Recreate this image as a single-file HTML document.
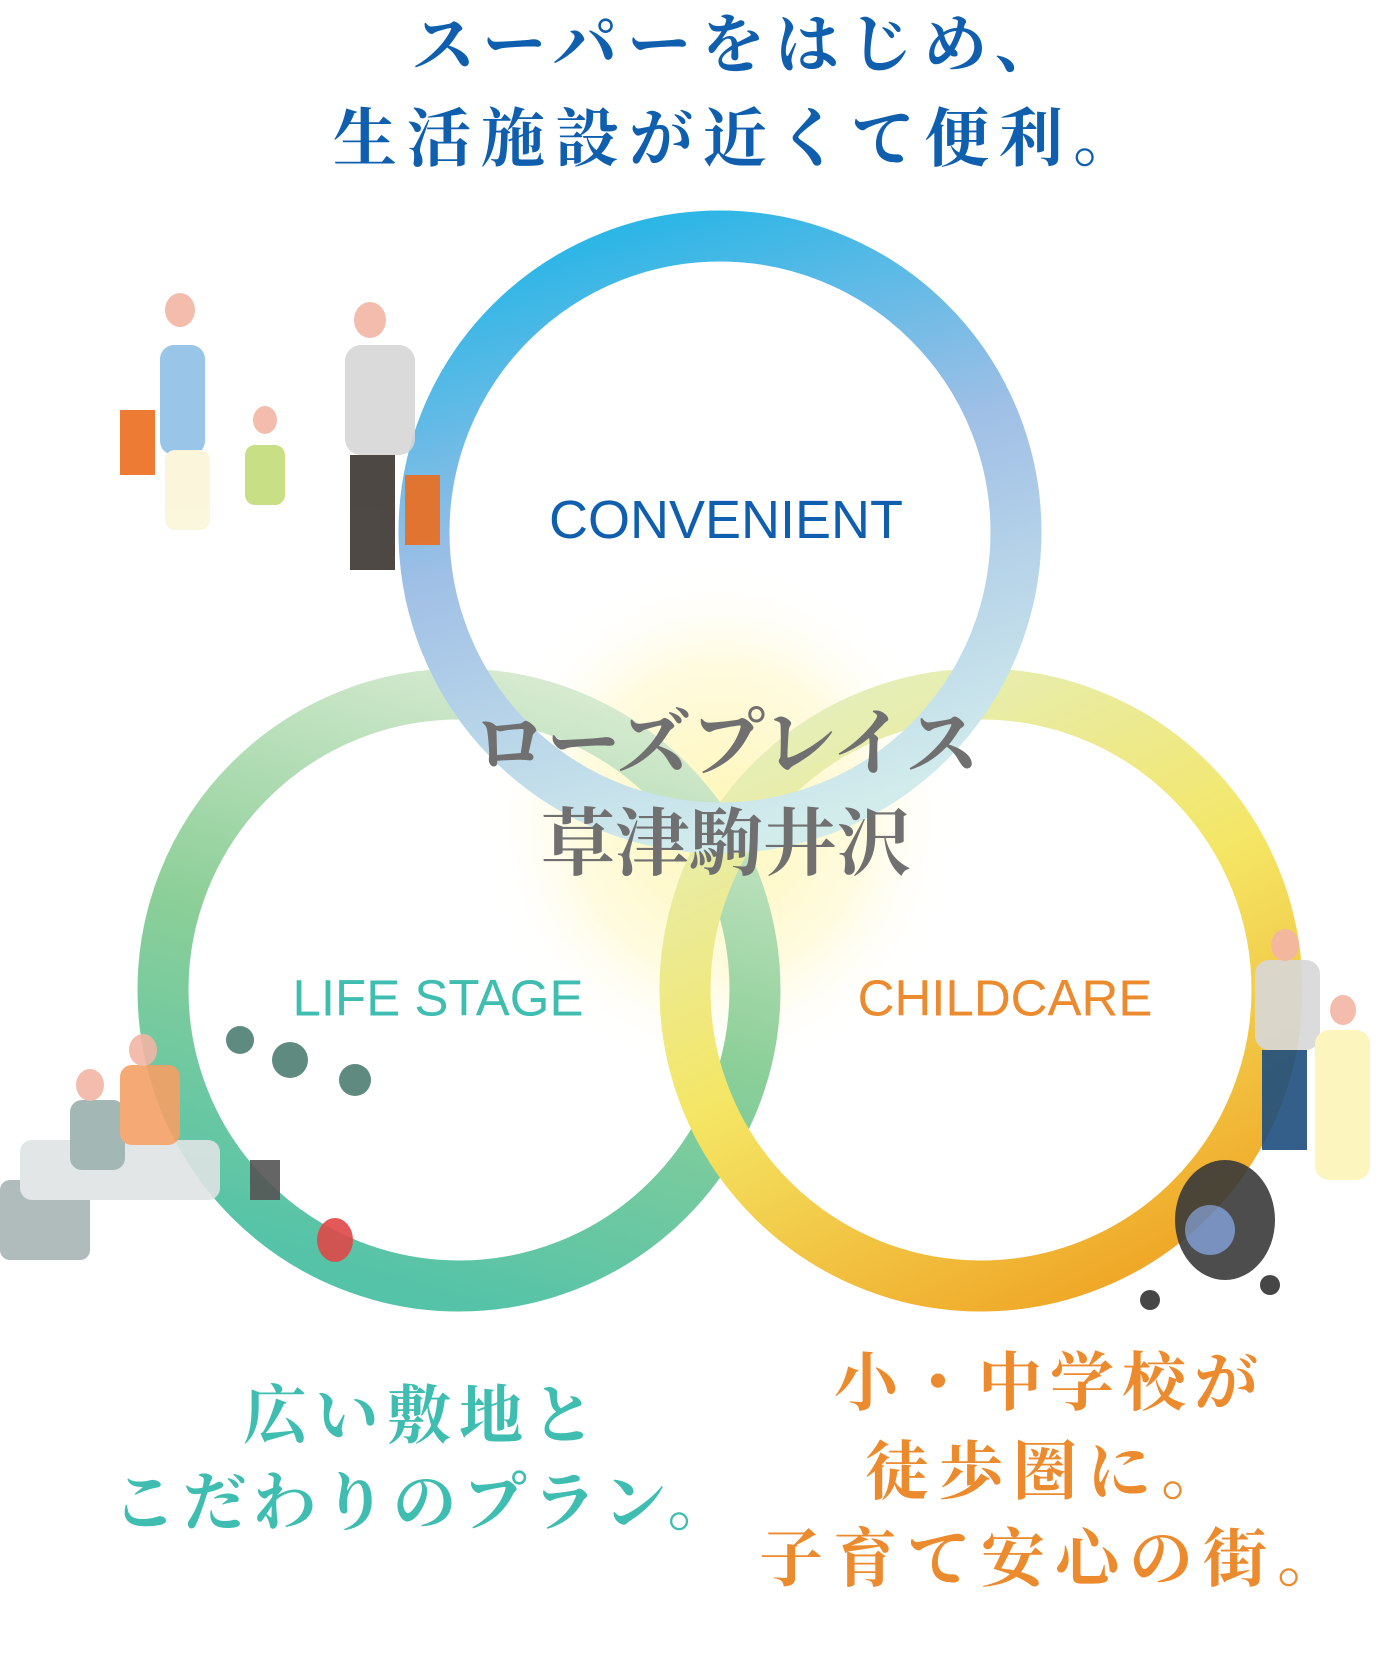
<!DOCTYPE html>
<html><head><meta charset="utf-8"><style>
html,body{margin:0;padding:0;background:#fff}
body{width:1380px;height:1661px;position:relative;overflow:hidden}
.t{position:absolute;white-space:nowrap;transform:translate(-50%,-50%);font-family:"Liberation Serif","Noto Serif CJK SC",serif;font-weight:bold}
.e{position:absolute;white-space:nowrap;transform:translate(-50%,-50%);font-family:"Liberation Sans",sans-serif}
</style></head><body>
<svg width="1380" height="1661" style="position:absolute;left:0;top:0">
<defs>
<radialGradient id="glow" cx="0.5" cy="0.5" r="0.5">
<stop offset="0" stop-color="#fff6b8"/><stop offset="0.6" stop-color="#fffbe0"/><stop offset="1" stop-color="#fff" stop-opacity="0"/></radialGradient>
<linearGradient id="gt" x1="0.3" y1="0" x2="0.6" y2="1">
<stop offset="0" stop-color="#2cb6e6"/><stop offset="0.45" stop-color="#9fbfe6"/><stop offset="1" stop-color="#d2ecec"/></linearGradient>
<linearGradient id="gl" x1="0.7" y1="0" x2="0.4" y2="1">
<stop offset="0" stop-color="#d6ead0"/><stop offset="0.5" stop-color="#8ccf98"/><stop offset="1" stop-color="#55c3a8"/></linearGradient>
<linearGradient id="gr" x1="0.2" y1="0" x2="0.7" y2="1">
<stop offset="0" stop-color="#e4efc0"/><stop offset="0.5" stop-color="#f4e664"/><stop offset="1" stop-color="#f0a828"/></linearGradient>
</defs>
<ellipse cx="720" cy="820" rx="240" ry="260" fill="url(#glow)"/>
<circle cx="459" cy="990" r="296" fill="none" stroke="url(#gl)" stroke-width="51"/>
<circle cx="981" cy="990" r="296" fill="none" stroke="url(#gr)" stroke-width="51"/>
<circle cx="720" cy="532" r="296" fill="none" stroke="url(#gt)" stroke-width="51"/>
<g opacity="0.9">
<ellipse cx="180" cy="310" rx="15" ry="17" fill="#f2b5a5"/><rect x="160" y="345" width="45" height="110" rx="14" fill="#8fbfe6"/><rect x="165" y="450" width="45" height="80" rx="10" fill="#fbf6d8"/>
<rect x="120" y="410" width="35" height="65" fill="#ec6d1e"/>
<ellipse cx="265" cy="420" rx="12" ry="14" fill="#f2b5a5"/><rect x="245" y="445" width="40" height="60" rx="10" fill="#c4dc7a"/>
<ellipse cx="370" cy="320" rx="16" ry="18" fill="#f2b5a5"/><rect x="345" y="345" width="70" height="110" rx="16" fill="#d6d6d6"/><rect x="350" y="455" width="45" height="115" fill="#3b3530"/>
<rect x="405" y="475" width="35" height="70" fill="#ec6d1e"/>
<rect x="0" y="1180" width="90" height="80" rx="10" fill="#a8b4b4"/><rect x="20" y="1140" width="200" height="60" rx="12" fill="#dfe4e4"/>
<rect x="70" y="1100" width="55" height="70" rx="12" fill="#9ab0ac"/><rect x="120" y="1065" width="60" height="80" rx="12" fill="#f5a065"/>
<ellipse cx="90" cy="1085" rx="14" ry="16" fill="#f2b5a5"/><ellipse cx="143" cy="1050" rx="14" ry="16" fill="#f2b5a5"/>
<rect x="250" y="1160" width="30" height="40" fill="#555"/><circle cx="290" cy="1060" r="18" fill="#4e7e72"/><circle cx="355" cy="1080" r="16" fill="#4e7e72"/><circle cx="240" cy="1040" r="14" fill="#4e7e72"/>
<ellipse cx="335" cy="1240" rx="18" ry="22" fill="#e04848"/>
<rect x="1255" y="960" width="65" height="90" rx="14" fill="#d8d8d8"/><rect x="1262" y="1050" width="45" height="100" fill="#1e4e7e"/><ellipse cx="1285" cy="945" rx="14" ry="16" fill="#f2b5a5"/>
<rect x="1315" y="1030" width="55" height="150" rx="14" fill="#fcf5b8"/><ellipse cx="1343" cy="1010" rx="13" ry="15" fill="#f2b5a5"/>
<ellipse cx="1225" cy="1220" rx="50" ry="60" fill="#3a3a3a"/><ellipse cx="1210" cy="1230" rx="25" ry="25" fill="#6a86b8"/>
<circle cx="1150" cy="1300" r="10" fill="#333"/><circle cx="1270" cy="1285" r="10" fill="#333"/>
</g>
</svg>
<div class="t" style="left:740px;top:40px;font-size:64px;color:#0f5fae;letter-spacing:10px">スーパーをはじめ、</div>
<div class="t" style="left:740px;top:134px;font-size:64px;color:#0f5fae;letter-spacing:10px">生活施設が近くて便利。</div>
<div class="e" style="left:726px;top:520px;font-size:54px;color:#0f5fae">CONVENIENT</div>
<div class="e" style="left:438px;top:998px;font-size:51px;color:#3fbdb0">LIFE STAGE</div>
<div class="e" style="left:1005px;top:998px;font-size:51px;color:#ec8a2e">CHILDCARE</div>
<div class="t" style="left:726px;top:738px;font-size:74px;color:#707070">ローズプレイス</div>
<div class="t" style="left:726px;top:838px;font-size:74px;color:#707070">草津駒井沢</div>
<div class="t" style="left:423px;top:1411px;font-size:64px;color:#3fbdb0;letter-spacing:8px">広い敷地と</div>
<div class="t" style="left:425px;top:1498px;font-size:64px;color:#3fbdb0;letter-spacing:6px">こだわりのプラン。</div>
<div class="t" style="left:1050px;top:1378px;font-size:64px;color:#ec8a2e;letter-spacing:8px">小・中学校が</div>
<div class="t" style="left:1050px;top:1467px;font-size:64px;color:#ec8a2e;letter-spacing:10px">徒歩圏に。</div>
<div class="t" style="left:1055px;top:1554px;font-size:64px;color:#ec8a2e;letter-spacing:10px">子育て安心の街。</div>
</body></html>
